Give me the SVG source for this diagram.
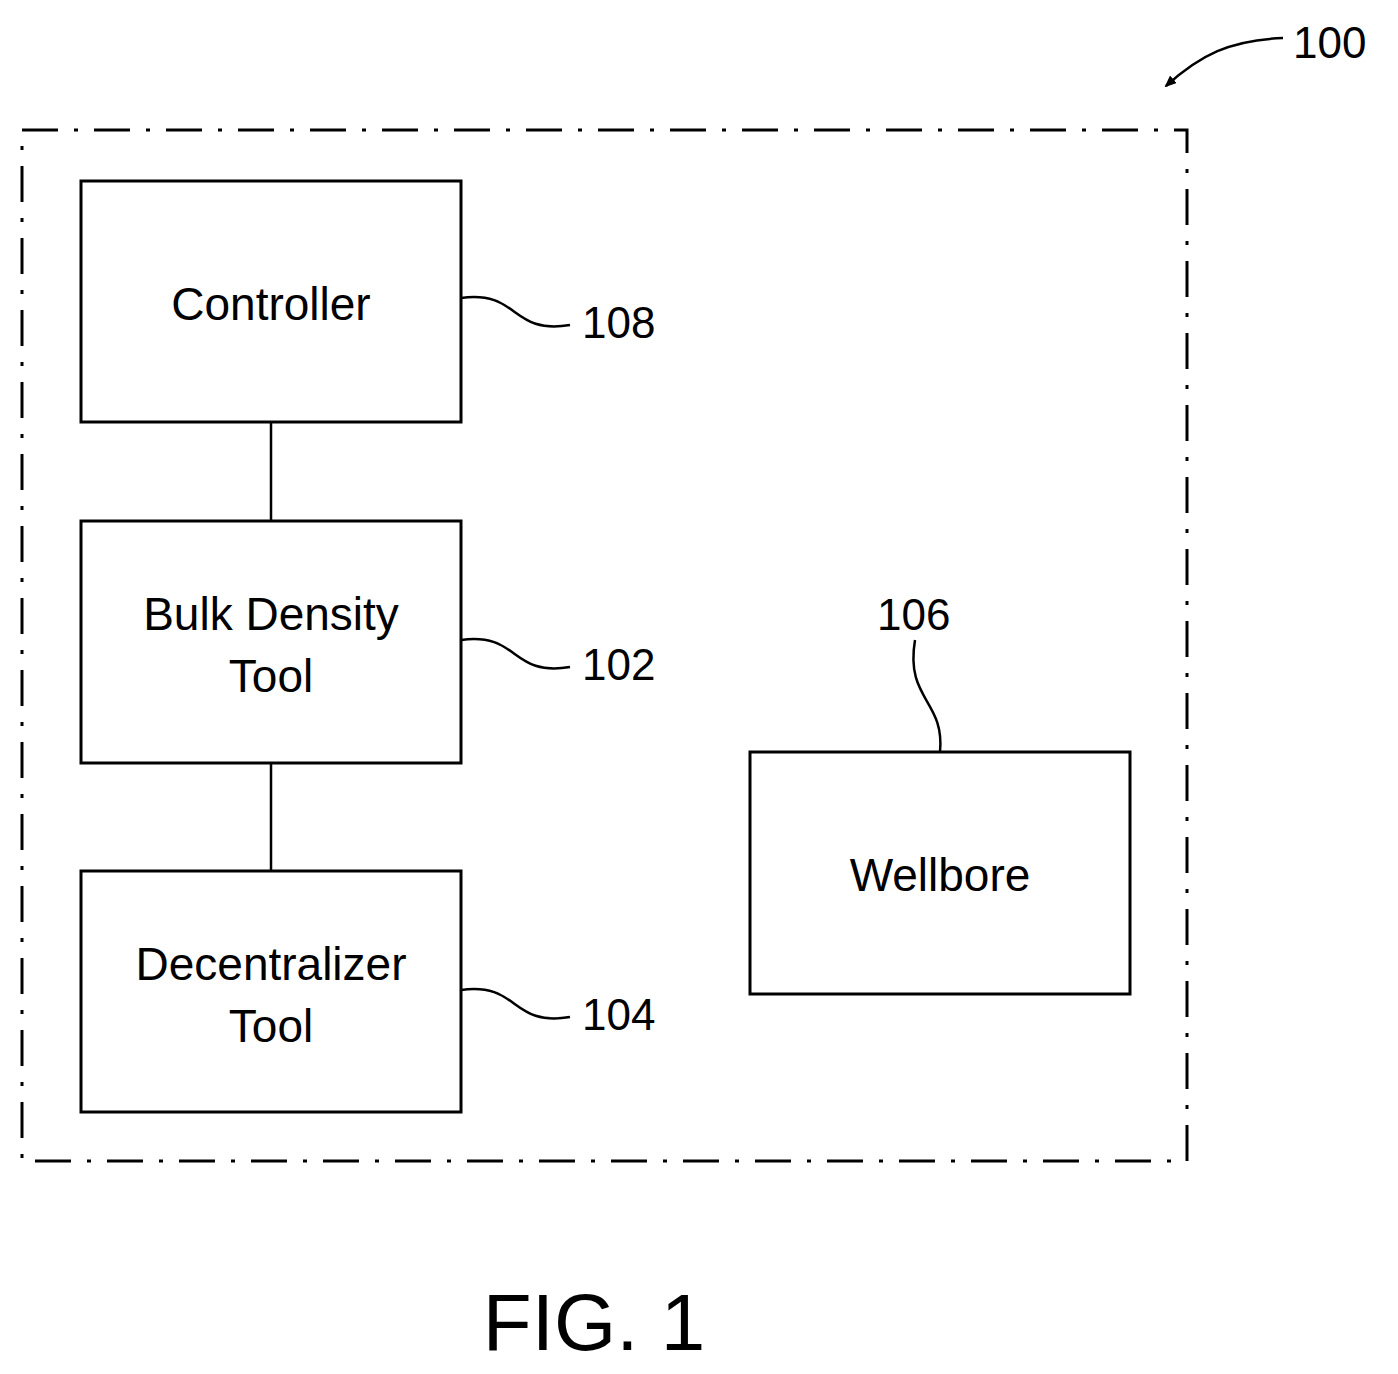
<svg xmlns="http://www.w3.org/2000/svg" width="1398" height="1374" viewBox="0 0 1398 1374">
<style>
.box{fill:#fff;stroke:#000;stroke-width:3}
.t{font-family:"Liberation Sans",Arial,sans-serif;font-size:46px;text-anchor:middle;fill:#000}
.n{font-family:"Liberation Sans",Arial,sans-serif;font-size:44px;fill:#000}
.l{fill:none;stroke:#000;stroke-width:2.5}
</style>
<defs><marker id="ah" markerWidth="12" markerHeight="10" refX="10" refY="5" orient="auto" markerUnits="userSpaceOnUse" viewBox="0 0 12 10"><path d="M0,0 L12,5 L0,10 Z" fill="#000"/></marker></defs>
<rect x="22" y="130" width="1165" height="1031" fill="none" stroke="#000" stroke-width="3" stroke-dasharray="36 16 4 16"/>
<g id="connectors">
<path class="l" d="M271,422 V521 M271,763 V871"/>
<path class="l" d="M461,298 C520,290 510,335 570,325"/>
<path class="l" d="M461,640 C520,632 510,677 570,667"/>
<path class="l" d="M461,990 C520,982 510,1027 570,1017"/>
<path class="l" d="M940,752 C945,700 905,700 915,640"/>
<path class="l" d="M1283,38 C1230,40 1200,55 1166,86" marker-end="url(#ah)"/>
</g>
<g id="controller"><rect class="box" x="81" y="181" width="380" height="241"/><text class="t" x="271" y="320">Controller</text></g>
<g id="bulk"><rect class="box" x="81" y="521" width="380" height="242"/><text class="t" x="271" y="630">Bulk Density</text><text class="t" x="271" y="692">Tool</text></g>
<g id="decentralizer"><rect class="box" x="81" y="871" width="380" height="241"/><text class="t" x="271" y="980">Decentralizer</text><text class="t" x="271" y="1042">Tool</text></g>
<g id="wellbore"><rect class="box" x="750" y="752" width="380" height="242"/><text class="t" x="940" y="891">Wellbore</text></g>
<text class="n" x="582" y="338">108</text>
<text class="n" x="582" y="680">102</text>
<text class="n" x="582" y="1030">104</text>
<text class="n" x="877" y="630">106</text>
<text class="n" x="1293" y="58">100</text>
<text class="t" x="594" y="1350" style="font-size:80px">FIG. 1</text>
</svg>
